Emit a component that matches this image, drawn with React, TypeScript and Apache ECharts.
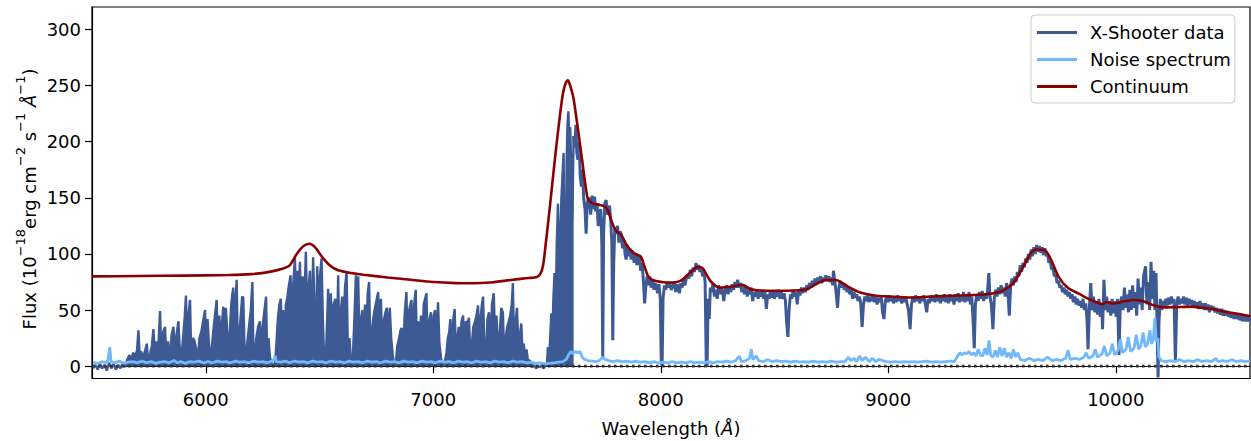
import React, { useEffect, useRef } from "react";
import * as echarts from "echarts";

// ---------- data ----------
const xTicks = [6000, 7000, 8000, 9000, 10000];
const yTicks = [0, 50, 100, 150, 200, 250, 300];

// X-Shooter data, Lyman-alpha forest part (drawn with fill to zero)
const forestData: [number, number][] = [
  [5505,-2],[5515,1],[5525,-3],[5535,2],[5545,-2],[5555,1],[5565,-4],[5575,3],[5585,-2],[5595,2],
  [5605,-3],[5615,1],[5625,-2],[5635,3],[5645,-1],[5655,6],[5665,10],[5672,4],[5680,12],[5690,9],
  [5698,14],[5704,32],[5709,12],[5716,13],[5725,8],[5735,15],[5741,20],[5746,6],[5755,11],[5763,18],
  [5770,33],[5775,14],[5782,22],[5790,10],[5799,49],[5804,15],[5812,30],[5821,35],[5826,12],[5834,22],
  [5842,6],[5850,28],[5858,35],[5863,15],[5870,26],[5880,40],[5885,18],[5892,4],[5900,25],[5908,45],
  [5913,63],[5918,12],[5925,48],[5931,59],[5936,10],[5942,25],[5950,23],[5958,15],[5965,5],[5972,25],
  [5980,30],[5990,42],[5997,50],[6002,8],[6008,42],[6014,20],[6020,4],[6028,20],[6035,35],[6042,48],
  [6048,59],[6053,15],[6060,45],[6067,5],[6072,40],[6077,53],[6082,10],[6088,52],[6095,30],[6100,8],
  [6106,30],[6112,55],[6118,66],[6121,70],[6126,12],[6130,55],[6136,77],[6141,15],[6148,30],[6154,45],
  [6160,62],[6165,61],[6170,20],[6175,2],[6182,20],[6190,35],[6198,50],[6205,75],[6210,5],[6216,10],
  [6222,25],[6230,35],[6238,40],[6244,5],[6250,35],[6258,50],[6265,62],[6270,10],[6276,25],[6282,8],
  [6290,2],[6298,1],[6305,3],[6312,25],[6318,45],[6324,55],[6330,60],[6335,20],[6340,50],[6346,8],
  [6352,55],[6358,60],[6364,70],[6373,81],[6378,25],[6385,75],[6392,97],[6397,40],[6402,85],[6408,50],
  [6414,93],[6420,30],[6426,80],[6432,45],[6440,102],[6446,45],[6452,70],[6458,85],[6464,20],[6472,97],
  [6478,50],[6484,25],[6490,89],[6496,45],[6502,80],[6509,96],[6515,40],[6520,8],[6524,0],[6530,20],
  [6538,69],[6543,20],[6550,65],[6556,10],[6562,55],[6570,60],[6576,15],[6582,81],[6587,25],[6594,50],
  [6600,62],[6606,30],[6612,70],[6619,84],[6625,10],[6632,25],[6638,5],[6645,0],[6652,35],[6660,81],
  [6665,25],[6670,80],[6676,20],[6682,40],[6688,50],[6694,10],[6700,55],[6706,30],[6712,65],[6718,75],
  [6724,12],[6730,30],[6736,42],[6742,50],[6750,58],[6758,66],[6764,20],[6770,60],[6776,15],[6782,40],
  [6790,48],[6796,52],[6803,20],[6809,52],[6815,25],[6822,10],[6828,0],[6835,2],[6842,18],[6850,25],
  [6856,32],[6862,34],[6868,8],[6874,45],[6882,66],[6888,12],[6894,50],[6900,55],[6904,59],[6910,15],
  [6916,55],[6923,68],[6928,15],[6934,40],[6940,10],[6946,45],[6952,10],[6958,55],[6964,60],[6970,65],
  [6976,15],[6982,40],[6990,48],[6996,10],[7002,45],[7008,50],[7014,15],[7021,57],[7027,20],[7034,8],
  [7040,0],[7046,2],[7052,5],[7058,12],[7064,25],[7070,30],[7075,42],[7080,8],[7087,40],[7094,51],
  [7100,10],[7106,25],[7112,35],[7118,10],[7124,40],[7131,45],[7137,12],[7143,40],[7150,38],[7157,43],
  [7163,8],[7170,20],[7176,35],[7184,40],[7190,45],[7197,54],[7203,12],[7209,45],[7214,55],[7219,62],
  [7225,15],[7232,10],[7238,42],[7245,48],[7252,12],[7258,55],[7266,65],[7272,20],[7278,45],[7285,10],
  [7292,30],[7299,52],[7306,48],[7312,8],[7318,25],[7325,35],[7332,40],[7338,45],[7345,55],[7350,74],
  [7355,20],[7362,40],[7368,52],[7375,12],[7382,30],[7387,38],[7392,15],[7398,20],[7404,6],[7410,15],
  [7416,5],[7424,5],[7430,2],[7436,-1],[7444,1],[7452,-2],[7460,0],[7468,-1],[7476,1],[7484,-2],
  [7492,0],[7500,3],[7504,17],[7510,8],[7515,30],[7519,47],[7524,25],[7528,60],[7533,83],[7538,50],
  [7543,110],[7548,145],[7552,60],[7555,10],[7558,120],[7563,148],[7568,170],[7573,190],[7577,80],[7580,15],
  [7582,8],[7586,180],[7590,215],[7594,227],[7598,200],[7602,213],[7606,180],[7609,127],[7612,140],[7617,205]
];

// X-Shooter data, red of Lyman-alpha (plain line)
const redData: [number, number][] = [
  [7617,205],[7622,195],[7627,215],[7631,190],[7636,184],[7641,200],[7646,170],[7651,160],[7656,175],[7661,150],
  [7667,140],[7672,118],[7677,145],[7682,150],[7687,148],[7692,135],[7698,152],[7703,140],[7709,151],[7714,138],
  [7720,145],[7725,125],[7731,130],[7736,140],[7741,110],[7745,8],[7749,120],[7754,145],[7760,148],[7765,135],
  [7770,140],[7775,143],[7780,130],[7785,110],[7789,23],[7793,90],[7798,124],[7804,118],[7810,125],[7816,110],
  [7821,120],[7826,118],[7832,105],[7838,112],[7843,100],[7848,95],[7853,108],[7858,98],[7864,105],[7870,95],
  [7877,103],[7883,92],[7889,100],[7895,90],[7900,98],[7906,97],[7912,85],[7918,92],[7924,75],[7929,56],
  [7934,70],[7940,80],[7946,72],[7952,80],[7958,70],[7964,76],[7970,68],[7975,74],[7980,72],[7986,65],
  [7992,73],[7998,60],[8002,5],[8006,0],[8010,60],[8016,72],[8022,68],[8028,75],[8034,70],[8040,74],
  [8046,68],[8053,71],[8060,75],[8066,66],[8072,73],[8078,70],[8082,65],[8088,74],[8094,70],[8100,77],
  [8106,72],[8111,77],[8118,82],[8124,78],[8130,86],[8136,80],[8142,88],[8148,84],[8155,92],[8160,86],
  [8166,90],[8172,84],[8178,88],[8184,80],[8190,84],[8195,75],[8200,2],[8204,0],[8208,60],[8213,42],
  [8218,70],[8224,66],[8230,74],[8236,62],[8242,68],[8248,60],[8254,72],[8260,64],[8266,70],[8272,66],
  [8277,58],[8283,68],[8290,72],[8296,64],[8302,70],[8308,66],[8314,73],[8320,68],[8326,75],[8332,70],
  [8338,77],[8344,70],[8350,74],[8356,66],[8362,72],[8368,64],[8374,70],[8380,62],[8386,68],[8392,64],
  [8398,70],[8404,58],[8410,66],[8416,62],[8422,68],[8428,60],[8434,66],[8440,62],[8446,67],[8452,60],
  [8458,66],[8464,51],[8470,64],[8476,60],[8482,67],[8488,61],[8494,66],[8500,60],[8506,67],[8512,62],
  [8518,68],[8524,60],[8530,66],[8536,60],[8542,65],[8548,58],[8553,40],[8559,26],[8564,50],[8570,64],
  [8576,60],[8582,68],[8588,62],[8594,66],[8600,55],[8606,68],[8612,63],[8618,70],[8624,65],[8630,70],
  [8636,66],[8642,72],[8648,68],[8654,74],[8660,70],[8666,76],[8672,72],[8678,78],[8684,74],[8690,79],
  [8696,75],[8702,80],[8708,74],[8714,79],[8720,76],[8726,81],[8732,76],[8738,80],[8744,75],[8750,79],
  [8756,72],[8759,85],[8765,76],[8771,65],[8777,52],[8783,70],[8789,76],[8795,70],[8801,74],[8807,68],
  [8813,72],[8819,66],[8825,70],[8831,64],[8837,68],[8843,60],[8849,66],[8855,61],[8861,64],[8867,58],
  [8873,62],[8879,56],[8885,35],[8891,55],[8897,62],[8903,58],[8909,63],[8915,57],[8921,62],[8927,58],
  [8933,63],[8939,57],[8945,62],[8951,55],[8957,61],[8963,57],[8969,62],[8975,48],[8981,42],[8987,58],
  [8993,62],[8999,57],[9005,63],[9011,58],[9017,62],[9023,56],[9029,61],[9035,57],[9041,63],[9047,58],
  [9053,62],[9059,56],[9065,61],[9071,57],[9077,62],[9083,55],[9089,50],[9096,33],[9102,55],[9108,62],
  [9114,57],[9120,63],[9126,58],[9132,62],[9138,56],[9144,61],[9150,58],[9156,63],[9162,56],[9169,48],
  [9175,60],[9181,56],[9187,63],[9193,58],[9199,62],[9205,57],[9211,64],[9217,58],[9223,62],[9229,56],
  [9235,63],[9241,58],[9247,64],[9253,57],[9259,62],[9265,56],[9271,64],[9277,58],[9283,62],[9289,55],
  [9295,64],[9301,58],[9307,65],[9313,57],[9319,63],[9325,58],[9331,66],[9337,57],[9343,64],[9349,58],
  [9355,66],[9361,55],[9367,62],[9373,40],[9378,16],[9383,55],[9389,64],[9395,58],[9401,66],[9407,60],
  [9413,67],[9419,58],[9425,65],[9431,60],[9437,68],[9442,83],[9447,62],[9453,55],[9460,33],[9466,60],
  [9472,68],[9478,62],[9484,70],[9490,64],[9496,72],[9502,65],[9508,70],[9514,62],[9520,74],[9526,66],
  [9532,45],[9538,72],[9544,78],[9550,72],[9556,80],[9562,75],[9568,84],[9574,80],[9580,90],[9586,84],
  [9592,92],[9598,88],[9604,96],[9610,92],[9616,100],[9622,95],[9628,104],[9634,98],[9640,106],[9646,100],
  [9652,108],[9658,102],[9664,107],[9670,101],[9676,106],[9682,99],[9688,105],[9694,98],[9700,100],[9706,92],
  [9712,94],[9718,86],[9724,88],[9730,80],[9736,82],[9742,74],[9748,76],[9754,70],[9760,72],[9766,66],
  [9772,70],[9778,64],[9784,68],[9790,62],[9796,66],[9802,60],[9808,64],[9814,57],[9820,62],[9826,55],
  [9832,60],[9838,54],[9844,58],[9850,52],[9856,60],[9862,50],[9868,56],[9874,40],[9878,15],[9884,52],
  [9890,74],[9896,50],[9902,62],[9908,48],[9914,58],[9920,46],[9926,60],[9932,44],[9938,56],[9942,33],
  [9948,77],[9954,50],[9960,62],[9966,48],[9972,58],[9978,45],[9984,60],[9990,47],[9996,58],[10002,44],
  [10008,60],[10014,10],[10020,55],[10026,62],[10032,50],[10038,70],[10044,52],[10050,64],[10056,48],[10062,68],
  [10068,50],[10074,72],[10080,52],[10086,66],[10092,45],[10098,78],[10104,55],[10110,70],[10116,50],[10122,80],
  [10131,89],[10137,55],[10143,75],[10149,50],[10155,93],[10161,60],[10167,85],[10172,50],[10177,83],[10182,30],
  [10186,-10],[10190,40],[10196,60],[10202,50],[10208,58],[10214,52],[10220,60],[10226,54],[10232,61],[10238,55],
  [10244,62],[10250,56],[10256,60],[10262,5],[10268,55],[10274,62],[10280,55],[10286,60],[10292,56],[10298,62],
  [10304,55],[10310,61],[10316,54],[10322,60],[10328,55],[10334,59],[10340,53],[10346,58],[10352,52],[10358,57],
  [10364,51],[10370,58],[10376,52],[10382,56],[10388,50],[10394,56],[10400,50],[10406,55],[10412,48],[10418,54],
  [10424,50],[10430,53],[10436,48],[10442,52],[10448,47],[10454,51],[10460,46],[10466,51],[10472,45],[10478,50],
  [10484,45],[10490,49],[10496,44],[10502,48],[10508,43],[10514,47],[10520,42],[10526,47],[10532,42],[10538,46],
  [10544,41],[10550,45],[10556,40],[10562,45],[10568,40],[10574,44],[10580,40],[10586,43],[10592,40]
];

const noiseData: [number, number][] = [
  [5505,3.5],[5525,2.5],[5545,4],[5560,3],[5570,5],[5578,17],[5584,4],[5600,3],[5620,4.5],[5640,2.5],
  [5660,3.5],[5680,4],[5700,3],[5720,4.5],[5740,3],[5760,4],[5780,2.5],[5800,3.5],[5820,4],[5840,3],
  [5860,5],[5875,3],[5890,4],[5910,2.5],[5930,4],[5950,3.5],[5970,4.5],[5990,3],[6010,4],[6030,3],
  [6050,4.5],[6070,3.5],[6090,4],[6110,3],[6130,4.5],[6150,3.5],[6170,4],[6190,3],[6210,4.5],[6230,3.5],
  [6250,4],[6270,3],[6290,4.5],[6300,6],[6305,9],[6310,4],[6330,3.5],[6350,4.5],[6370,3],[6390,4.5],
  [6410,3.5],[6430,4],[6450,3],[6470,4.5],[6490,3.5],[6510,4],[6530,3],[6550,4.5],[6570,3.5],[6590,4],
  [6610,3],[6630,4.5],[6650,3.5],[6670,4],[6690,3],[6710,4.5],[6730,3.5],[6750,4],[6770,3],[6790,4.5],
  [6810,3.5],[6830,4],[6850,3],[6870,4.5],[6890,3.5],[6910,4],[6930,3],[6950,4.5],[6970,3.5],[6990,4],
  [7010,3],[7030,4.5],[7050,3.5],[7070,4],[7090,3],[7110,4.5],[7130,3.5],[7150,4],[7170,3],[7190,4.5],
  [7210,3.5],[7230,4],[7250,3],[7270,4.5],[7290,3.5],[7310,4],[7330,3],[7350,4.5],[7370,3.5],[7390,4],
  [7410,3],[7430,3.5],[7450,2.5],[7470,3],[7490,2],[7510,2.5],[7530,3],[7550,3.5],[7570,4],[7585,6],
  [7595,10],[7605,13],[7615,11],[7625,13],[7635,12],[7645,13],[7655,8],[7665,6],[7680,5],[7700,4.5],
  [7715,4],[7730,5],[7745,8],[7755,6],[7770,5],[7790,4],[7810,5],[7830,4],[7850,4.5],[7870,3.5],
  [7890,4.5],[7910,3.5],[7930,4],[7950,3],[7970,4],[7990,3],[8010,3.5],[8030,3],[8050,4],[8070,3],
  [8090,3.5],[8110,3],[8130,4],[8150,3],[8170,3.5],[8190,3],[8210,4],[8230,3],[8250,4],[8270,3.5],
  [8290,4.5],[8310,3.5],[8330,5],[8345,9],[8355,4],[8375,5],[8390,7],[8398,15],[8405,6],[8420,9],
  [8430,5],[8450,4],[8470,6],[8490,4],[8510,5],[8530,4],[8550,4.5],[8570,3.5],[8590,4.5],[8610,3.5],
  [8630,4],[8650,3.5],[8670,4.5],[8690,3.5],[8710,4],[8730,3.5],[8750,4.5],[8770,3.5],[8790,4],[8810,4],
  [8825,8],[8835,5],[8850,7],[8860,4],[8875,9],[8885,5],[8900,8],[8915,4],[8930,7],[8945,4],
  [8960,6],[8975,5],[8990,4],[9010,3.5],[9030,4],[9050,3.5],[9070,4],[9090,3.5],[9110,4],[9130,3.5],
  [9150,4],[9170,4.5],[9190,3.5],[9210,4],[9230,3.5],[9250,4],[9270,4.5],[9290,4],[9305,9],[9315,12],
  [9325,10],[9335,12],[9345,11],[9355,13],[9365,10],[9375,12],[9385,9],[9395,15],[9405,10],[9415,9],
  [9425,16],[9435,10],[9443,23],[9450,10],[9460,8],[9470,14],[9480,8],[9490,17],[9500,9],[9510,16],
  [9520,8],[9530,12],[9540,7],[9550,15],[9560,8],[9570,12],[9580,6],[9600,5],[9620,7],[9640,5],
  [9660,6],[9680,5],[9700,8],[9720,5],[9740,6],[9760,5],[9780,7],[9790,14],[9800,6],[9820,7],
  [9840,6],[9860,8],[9870,12],[9880,7],[9900,9],[9910,15],[9920,8],[9940,11],[9950,18],[9960,9],
  [9975,12],[9985,20],[9995,10],[10010,14],[10020,24],[10030,12],[10045,15],[10055,26],[10065,13],[10080,16],
  [10090,28],[10100,15],[10110,18],[10120,30],[10130,17],[10140,20],[10150,32],[10158,20],[10165,24],[10172,43],
  [10178,22],[10185,25],[10190,8],[10200,5],[10220,4],[10240,5],[10260,4],[10280,6],[10300,4],[10320,5],
  [10340,4],[10360,6],[10380,4],[10400,5],[10420,4],[10440,7],[10450,4],[10470,5],[10490,4],[10510,6],
  [10530,4],[10550,5],[10570,4],[10590,5]
];

const continuumData: [number, number][] = [
  [5500,80],[5700,80.3],[5900,80.7],[6100,81.2],[6200,82],[6280,84],[6340,87],[6370,90],[6400,100],[6430,107],
  [6455,109],[6480,106],[6516,96],[6550,89],[6582,85.5],[6640,83],[6692,81.5],[6800,79],[6911,76.7],[7000,75],
  [7100,74],[7175,73.8],[7250,74.5],[7350,77],[7420,78.5],[7455,79.5],[7470,82],[7482,89],[7495,110],[7511,139],
  [7526,168],[7541,196],[7556,222],[7570,243],[7582,252],[7592,254.6],[7600,251],[7609,245],[7617,238],[7630,220],
  [7643,201],[7660,175],[7672,157],[7680,149],[7700,145],[7731,143.7],[7755,142],[7767,139],[7782,130],[7797,122.8],
  [7812,119],[7826,117],[7850,108],[7877,101.4],[7900,99],[7913,97.5],[7930,88],[7945,80],[7967,76.5],[8004,75],
  [8040,74.5],[8086,76],[8122,82],[8150,87],[8168,88.5],[8185,87],[8200,82],[8222,75],[8259,70],[8313,70.9],
  [8359,72.5],[8390,69],[8422,67.7],[8495,67.2],[8586,67.4],[8641,68.5],[8677,72.5],[8723,76.5],[8768,76.8],[8800,74],
  [8823,70.9],[8877,65.6],[8940,63],[9005,62.1],[9096,61.2],[9187,62],[9278,62.7],[9369,63.3],[9430,64],[9478,65.6],
  [9514,68.5],[9551,74.4],[9587,86.2],[9624,100],[9650,104],[9687,103.5],[9715,95],[9751,78.8],[9788,70],[9842,64.1],
  [9880,60],[9915,57],[9942,55.2],[9958,57],[9970,56.8],[9988,55.8],[10030,57.5],[10079,59],[10110,58.5],[10133,57],
  [10170,54],[10206,52.4],[10260,52.6],[10334,53],[10380,52],[10425,50.9],[10470,49],[10515,47.4],[10592,44.5]
];

const zeroLine: [number, number][] = [[5500, 0], [10590, 0]];

const DARK = "#3d5a95";
const LIGHT = "#72b8fd";
const RED = "#8b0000";
const FONT = "DejaVu Sans";

export default function App() {
  const ref = useRef<HTMLDivElement>(null);
  useEffect(() => {
    if (!ref.current) return;
    const chart = echarts.init(ref.current, undefined, { renderer: "svg" });
    const labelRich = {
      n: { fontSize: 18, fontFamily: FONT, fill: "#000", color: "#000", verticalAlign: "bottom", lineHeight: 24 },
      s: { fontSize: 13, fontFamily: FONT, fill: "#000", color: "#000", verticalAlign: "top", lineHeight: 12 },
      i: { fontSize: 18, fontFamily: FONT, fill: "#000", color: "#000", fontStyle: "italic", verticalAlign: "bottom", lineHeight: 24 },
    };
    chart.setOption({
      animation: false,
      textStyle: { fontFamily: FONT },
      grid: {
        left: 92, right: 1, top: 7, bottom: 62.5,
        show: true, borderColor: "#000", borderWidth: 1.2, backgroundColor: "transparent",
      },
      xAxis: {
        type: "value", min: 5500, max: 10590,
        axisLine: { show: true, lineStyle: { color: "#000", width: 1.2 } },
        axisTick: { show: true, length: 7, lineStyle: { color: "#000", width: 1.2 }, customValues: xTicks },
        axisLabel: {
          customValues: xTicks, fontSize: 18, color: "#000", margin: 12, fontFamily: FONT,
          formatter: (v: number) => String(v),
        },
        splitLine: { show: false },
      },
      yAxis: {
        type: "value", min: -11, max: 320,
        axisLine: { show: true, lineStyle: { color: "#000", width: 1.2 } },
        axisTick: { show: true, length: 7, lineStyle: { color: "#000", width: 1.2 }, customValues: yTicks },
        axisLabel: {
          customValues: yTicks, fontSize: 18, color: "#000", margin: 11, fontFamily: FONT,
          formatter: (v: number) => String(v),
        },
        splitLine: { show: false },
      },
      legend: {
        data: ["X-Shooter data", "Noise spectrum", "Continuum"],
        orient: "vertical", left: 1031, top: 15,
        icon: "rect", itemWidth: 40, itemHeight: 3, itemGap: 6,
        padding: [7, 4, 6, 6],
        borderColor: "#cccccc", borderWidth: 1, borderRadius: 4,
        backgroundColor: "rgba(255,255,255,0.8)",
        textStyle: { fontSize: 18, color: "#000", padding: [0, 0, 0, 8], lineHeight: 21, fontFamily: FONT },
        z: 10,
      },
      graphic: [
        {
          type: "text", x: 26, y: 199, rotation: Math.PI / 2,
          style: {
            text: "{n|Flux (10}{s|−18}{n|erg cm}{s|−2}{n| s}{s|−1}{n| }{i|Å}{s|−1}{n|)}",
            fontSize: 18, fontFamily: FONT, fill: "#000",
            textAlign: "center", verticalAlign: "middle", textVerticalAlign: "middle",
            rich: labelRich,
          },
        },
        {
          type: "text", x: 671, y: 428,
          style: {
            text: "Wavelength ({i|Å})",
            fontSize: 18, fontFamily: FONT, fill: "#000",
            textAlign: "center", verticalAlign: "middle", textVerticalAlign: "middle",
            rich: { i: { fontStyle: "italic", fontSize: 18, fontFamily: FONT, fill: "#000" } },
          },
        },
      ],
      series: [
        {
          name: "X-Shooter data", type: "line", data: forestData, showSymbol: false,
          lineStyle: { color: DARK, width: 2.4 }, itemStyle: { color: DARK },
          areaStyle: { color: DARK, opacity: 1 }, z: 2,
        },
        {
          name: "X-Shooter data", type: "line", data: redData, showSymbol: false,
          lineStyle: { color: DARK, width: 3 }, itemStyle: { color: DARK }, z: 2,
        },
        {
          name: "Noise spectrum", type: "line", data: noiseData, showSymbol: false,
          lineStyle: { color: LIGHT, width: 2.8 }, itemStyle: { color: LIGHT }, z: 3,
        },
        {
          name: "Continuum", type: "line", data: continuumData, showSymbol: false, smooth: 0.3,
          lineStyle: { color: RED, width: 2.6 }, itemStyle: { color: RED }, z: 4,
        },
        {
          name: "zero", type: "line", data: zeroLine, showSymbol: false, silent: true,
          lineStyle: { color: "#333333", width: 2.6, type: [2.6, 3.4], cap: "butt" }, z: 5,
        },
      ],
    });
    return () => chart.dispose();
  }, []);
  return <div ref={ref} style={{ position: "absolute", left: 0, top: 0, width: 1251, height: 441 }} />;
}
